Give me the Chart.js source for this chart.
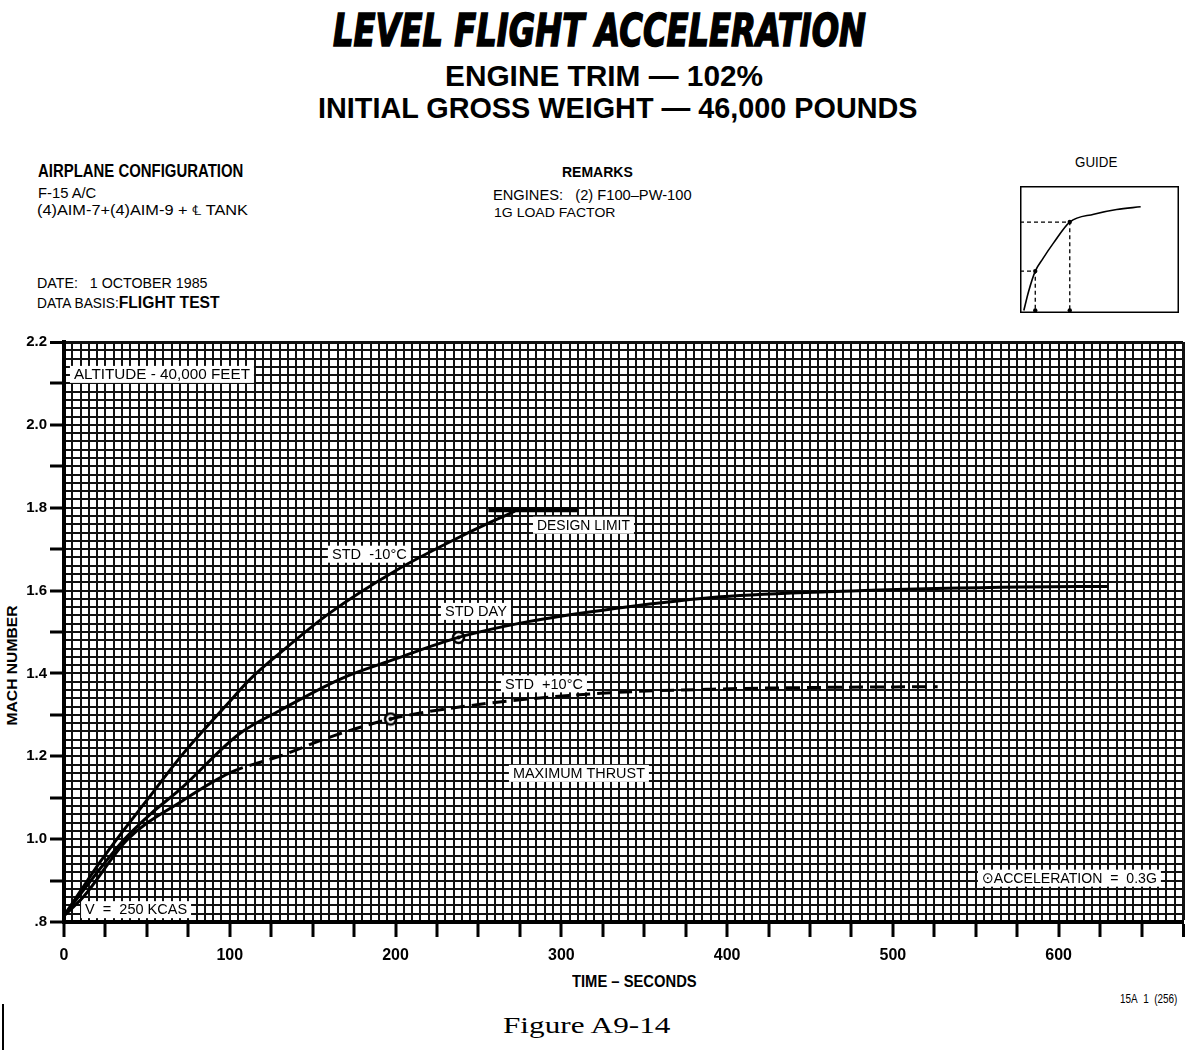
<!DOCTYPE html>
<html><head><meta charset="utf-8">
<script src="https://cdn.jsdelivr.net/npm/chart.js@4"></script>
<style>
html,body{margin:0;padding:0;background:#fff;width:1199px;height:1058px;overflow:hidden;position:relative;}
.t{position:absolute;white-space:nowrap;line-height:1;transform-origin:0 0;color:#000;font-family:"Liberation Sans",Arial,sans-serif;}
#main{position:absolute;left:0;top:330px;width:1199px;height:680px;}
#guide{position:absolute;left:1016px;top:182px;width:167px;height:135px;}
</style></head><body>
<div class="t fit" data-w="533" style="left:333px;top:5px;font:italic bold 44px 'DejaVu Sans';-webkit-text-stroke:1.6px #000;">LEVEL FLIGHT ACCELERATION</div>
<div class="t fit" data-w="318" style="left:445px;top:61px;font-weight:bold;font-size:30px;">ENGINE TRIM — 102%</div>
<div class="t fit" data-w="600" style="left:318px;top:93px;font-weight:bold;font-size:30px;">INITIAL GROSS WEIGHT — 46,000 POUNDS</div>

<div class="t fit" data-w="205" style="left:38px;top:161px;font-weight:bold;font-size:19px;">AIRPLANE CONFIGURATION</div>
<div class="t fit" data-w="58" style="left:38px;top:186px;font-size:14px;">F-15 A/C</div>
<div class="t fit" data-w="211" style="left:37px;top:203px;font-size:14px;">(4)AIM-7+(4)AIM-9 + ℄ TANK</div>
<div class="t fit" data-w="171" style="left:37px;top:276px;font-size:14px;">DATE:&nbsp;&nbsp; 1 OCTOBER 1985</div>
<div class="t fit" data-w="183" style="left:37px;top:295px;font-size:14px;">DATA BASIS:<b style="font-size:16px">FLIGHT TEST</b></div>

<div class="t fit" data-w="71" style="left:562px;top:165px;font-weight:bold;font-size:14px;">REMARKS</div>
<div class="t fit" data-w="199" style="left:493px;top:188px;font-size:14px;">ENGINES:&nbsp;&nbsp; (2) F100–PW-100</div>
<div class="t fit" data-w="121" style="left:494px;top:206px;font-size:13px;">1G LOAD FACTOR</div>
<div class="t fit" data-w="42" style="left:1075px;top:155px;font-size:14px;">GUIDE</div>

<div class="t fit" data-w="125" style="left:572px;top:973px;font-weight:bold;font-size:17px;">TIME – SECONDS</div>
<div class="t fit" data-w="57" style="left:1120px;top:993px;font-size:12px;">15A&nbsp; 1&nbsp; (256)</div>
<div class="t fit" data-w="167" style="left:503px;top:1014px;font-family:'Liberation Serif',serif;font-size:23px;">Figure A9-14</div>
<div id="mach" class="t" style="font-weight:bold;font-size:15px;">MACH NUMBER</div>
<div style="position:absolute;left:2px;top:1004px;width:2px;height:46px;background:#000;"></div>

<div id="main"><canvas id="c1"></canvas></div>
<div id="guide"><canvas id="c2"></canvas></div>

<script>
// ---------------- data ----------------
const stdMinus10T = [0, 10, 20, 30, 50, 72, 99, 112, 132, 160, 200, 240, 272];
const stdMinus10M = [0.815, 0.875, 0.935, 0.99, 1.094, 1.207, 1.328, 1.385, 1.455, 1.545, 1.648, 1.732, 1.792];
const stdDayT = [0, 12, 24, 36, 52, 70, 106, 130, 167, 200, 238, 280, 324, 391, 460, 526, 613, 630];
const stdDayM = [0.815, 0.878, 0.94, 0.998, 1.06, 1.12, 1.255, 1.31, 1.387, 1.435, 1.487, 1.525, 1.552, 1.583, 1.597, 1.605, 1.61, 1.61];
const stdPlus10T = [0, 12, 38, 72, 100, 130, 163, 197, 250, 324, 391, 450, 527];
const stdPlus10M = [0.815, 0.862, 0.998, 1.094, 1.16, 1.2, 1.25, 1.29, 1.325, 1.352, 1.362, 1.366, 1.368];
const designLimitT = [256, 310];
const designLimitM = [1.795, 1.795];
const accelT = [238, 197];
const accelM = [1.487, 1.29];

const xLabelValues = [0, 100, 200, 300, 400, 500, 600];
const yLabelValues = [0.8, 1.0, 1.2, 1.4, 1.6, 1.8, 2.0, 2.2];
const yTickLabels = ['.8', '1.0', '1.2', '1.4', '1.6', '1.8', '2.0', '2.2'];

// guide inset (illustrative)
const guideCurveX = [2.4, 5.4, 9.6, 14.5, 21, 31.3, 46.4, 60.8, 75.9];
const guideCurveY = [2, 17, 33, 43, 55, 71.6, 77.8, 81.5, 83.6];
const guideRefX = [9.6, 31.3];
const guideRefY = [33, 71.6];

// ---------------- header text fitting ----------------
document.querySelectorAll('.fit').forEach(el => {
  const w = el.offsetWidth, target = +el.dataset.w;
  el.style.transform = 'scaleX(' + (target / w) + ')';
});
(function(){
  const el = document.getElementById('mach');
  const w = el.offsetWidth, h = el.offsetHeight, target = 120;
  el.style.transformOrigin = '50% 50%';
  el.style.left = (11 - w / 2) + 'px';
  el.style.top = (665 - h / 2) + 'px';
  el.style.transform = 'rotate(-90deg) scaleX(' + (target / w) + ')';
})();

// ---------------- main chart ----------------
const xGrid = []; for (let v = 0; v <= 675; v += 5) xGrid.push(v);
const yGrid = []; for (let i = 0; i <= 70; i++) yGrid.push(Math.round((0.8 + i * 0.02) * 1000) / 1000);
const isTenth = v => Math.abs(v * 10 - Math.round(v * 10)) < 1e-6;
const pts = (T, M) => T.map((t, i) => ({x: t, y: M[i]}));

const plotLabels = [
  {text: 'ALTITUDE - 40,000 FEET', t: 6, m: 2.123, w: 176},
  {text: 'V  =  250 KCAS', t: 12.7, m: 0.831, w: 102},
  {text: 'STD  -10°C', t: 161.6, m: 1.689, w: 75},
  {text: 'DESIGN LIMIT', t: 285.3, m: 1.759, w: 93},
  {text: 'STD DAY', t: 229.8, m: 1.551, w: 62},
  {text: 'STD  +10°C', t: 266, m: 1.376, w: 78},
  {text: 'MAXIMUM THRUST', t: 270.8, m: 1.160, w: 132},
  {text: '⊙ACCELERATION  =  0.3G', t: 553.7, m: 0.907, w: 175}
];
const labelPlugin = {
  id: 'plotLabels',
  beforeDatasetsDraw(chart) {
    const {ctx, scales: {x, y}} = chart;
    ctx.save();
    ctx.font = '15px "Liberation Sans", "DejaVu Sans", sans-serif';
    ctx.textBaseline = 'middle';
    for (const l of plotLabels) {
      const px = x.getPixelForValue(l.t), py = y.getPixelForValue(l.m);
      const mw = ctx.measureText(l.text).width;
      ctx.fillStyle = '#fff';
      ctx.fillRect(px - 4, py - 8, l.w + 8, 17);
      ctx.save();
      ctx.translate(px, py + 1);
      ctx.scale(l.w / mw, 1);
      ctx.fillStyle = '#000';
      ctx.fillText(l.text, 0, 0);
      ctx.restore();
    }
    ctx.restore();
  }
};

function makeMarker() {
  const c = document.createElement('canvas'); c.width = c.height = 15;
  const g = c.getContext('2d');
  g.fillStyle = '#fff'; g.beginPath(); g.arc(7.5, 7.5, 5.5, 0, 2 * Math.PI); g.fill();
  g.lineWidth = 2.6; g.strokeStyle = '#000'; g.stroke();
  g.fillStyle = '#000'; g.beginPath(); g.arc(7.5, 7.5, 2, 0, 2 * Math.PI); g.fill();
  return c;
}

const lineBase = {borderColor: '#000', borderWidth: 3, pointRadius: 0, cubicInterpolationMode: 'monotone', fill: false};

new Chart(document.getElementById('c1'), {
  type: 'line',
  data: {
    datasets: [
      Object.assign({label: 'STD -10°C', data: pts(stdMinus10T, stdMinus10M)}, lineBase),
      Object.assign({label: 'STD DAY', data: pts(stdDayT, stdDayM)}, lineBase),
      Object.assign({label: 'STD +10°C', data: pts(stdPlus10T, stdPlus10M),
        segment: {borderDash: c => c.p0.parsed.x >= 100 ? [14, 7] : undefined}}, lineBase),
      {label: 'DESIGN LIMIT', data: pts(designLimitT, designLimitM), borderColor: '#000', borderWidth: 5, pointRadius: 0},
      {label: 'ACCELERATION = 0.3G', data: pts(accelT, accelM), showLine: false,
        pointStyle: makeMarker(), pointRadius: 7}
    ]
  },
  options: {
    responsive: true, maintainAspectRatio: false, animation: false,
    layout: {padding: {top: 10, right: 16, left: 0, bottom: 0}},
    plugins: {legend: {display: false}, tooltip: {enabled: false}},
    scales: {
      x: {
        type: 'linear', min: 0, max: 675,
        afterBuildTicks: s => { s.ticks = xGrid.map(v => ({value: v})); },
        afterFit: s => { s.height = 88; },
        ticks: {autoSkip: false, maxRotation: 0, minRotation: 0, padding: 9, color: '#000',
          font: {family: '"Liberation Sans", Arial, sans-serif', size: 16, weight: 'bold'},
          callback: v => xLabelValues.includes(v) ? String(v) : ''},
        grid: {color: '#111', lineWidth: c => (c.tick && c.tick.value === 675) ? 3 : 2,
          tickLength: 15, tickWidth: 3,
          tickColor: c => (c.tick && c.tick.value % 25 === 0) ? '#000' : 'rgba(0,0,0,0)'},
        border: {color: '#000', width: 4}
      },
      y: {
        type: 'linear', min: 0.8, max: 2.2,
        afterBuildTicks: s => { s.ticks = yGrid.map(v => ({value: v})); },
        afterFit: s => { s.width = 64; },
        ticks: {autoSkip: false, padding: 3, color: '#000',
          font: {family: '"Liberation Sans", Arial, sans-serif', size: 15, weight: 'bold'},
          callback: v => { const i = yLabelValues.findIndex(a => Math.abs(a - v) < 1e-6); return i >= 0 ? yTickLabels[i] : ''; }},
        grid: {color: '#111', lineWidth: c => (c.tick && Math.abs(c.tick.value - 2.2) < 1e-6) ? 3 : 2,
          tickLength: 14, tickWidth: 3,
          tickColor: c => (c.tick && isTenth(c.tick.value)) ? '#000' : 'rgba(0,0,0,0)'},
        border: {color: '#000', width: 4}
      }
    }
  },
  plugins: [labelPlugin]
});

// ---------------- guide inset ----------------
const guideSets = [
  {data: pts(guideCurveX, guideCurveY), borderColor: '#000', borderWidth: 1.6, pointRadius: 0, cubicInterpolationMode: 'monotone'}
];
guideRefX.forEach((gx, i) => {
  guideSets.push({data: [{x: 0, y: guideRefY[i]}, {x: gx, y: guideRefY[i]}, {x: gx, y: 0}],
    borderColor: '#000', borderWidth: 1.3, borderDash: [4, 3], pointRadius: 0});
  guideSets.push({data: [{x: gx, y: 2}, {x: gx, y: guideRefY[i]}], showLine: false,
    pointRadius: 2.2, pointBackgroundColor: '#000', pointBorderWidth: 0});
});
const boxPlugin = {
  id: 'box',
  afterDraw(chart) {
    const {ctx, chartArea: a} = chart;
    ctx.save(); ctx.strokeStyle = '#000'; ctx.lineWidth = 1.5;
    ctx.strokeRect(a.left + 0.75, a.top + 0.75, a.width - 1.5, a.height - 1.5);
    ctx.restore();
  }
};
new Chart(document.getElementById('c2'), {
  type: 'line',
  data: {datasets: guideSets},
  options: {
    responsive: true, maintainAspectRatio: false, animation: false,
    layout: {padding: 0},
    plugins: {legend: {display: false}, tooltip: {enabled: false}},
    elements: {line: {borderCapStyle: 'butt'}},
    datasets: {line: {clip: false}},
    scales: {x: {type: 'linear', min: 0, max: 100, display: false},
             y: {type: 'linear', min: 0, max: 100, display: false}}
  },
  plugins: [boxPlugin]
});
</script>
</body></html>
